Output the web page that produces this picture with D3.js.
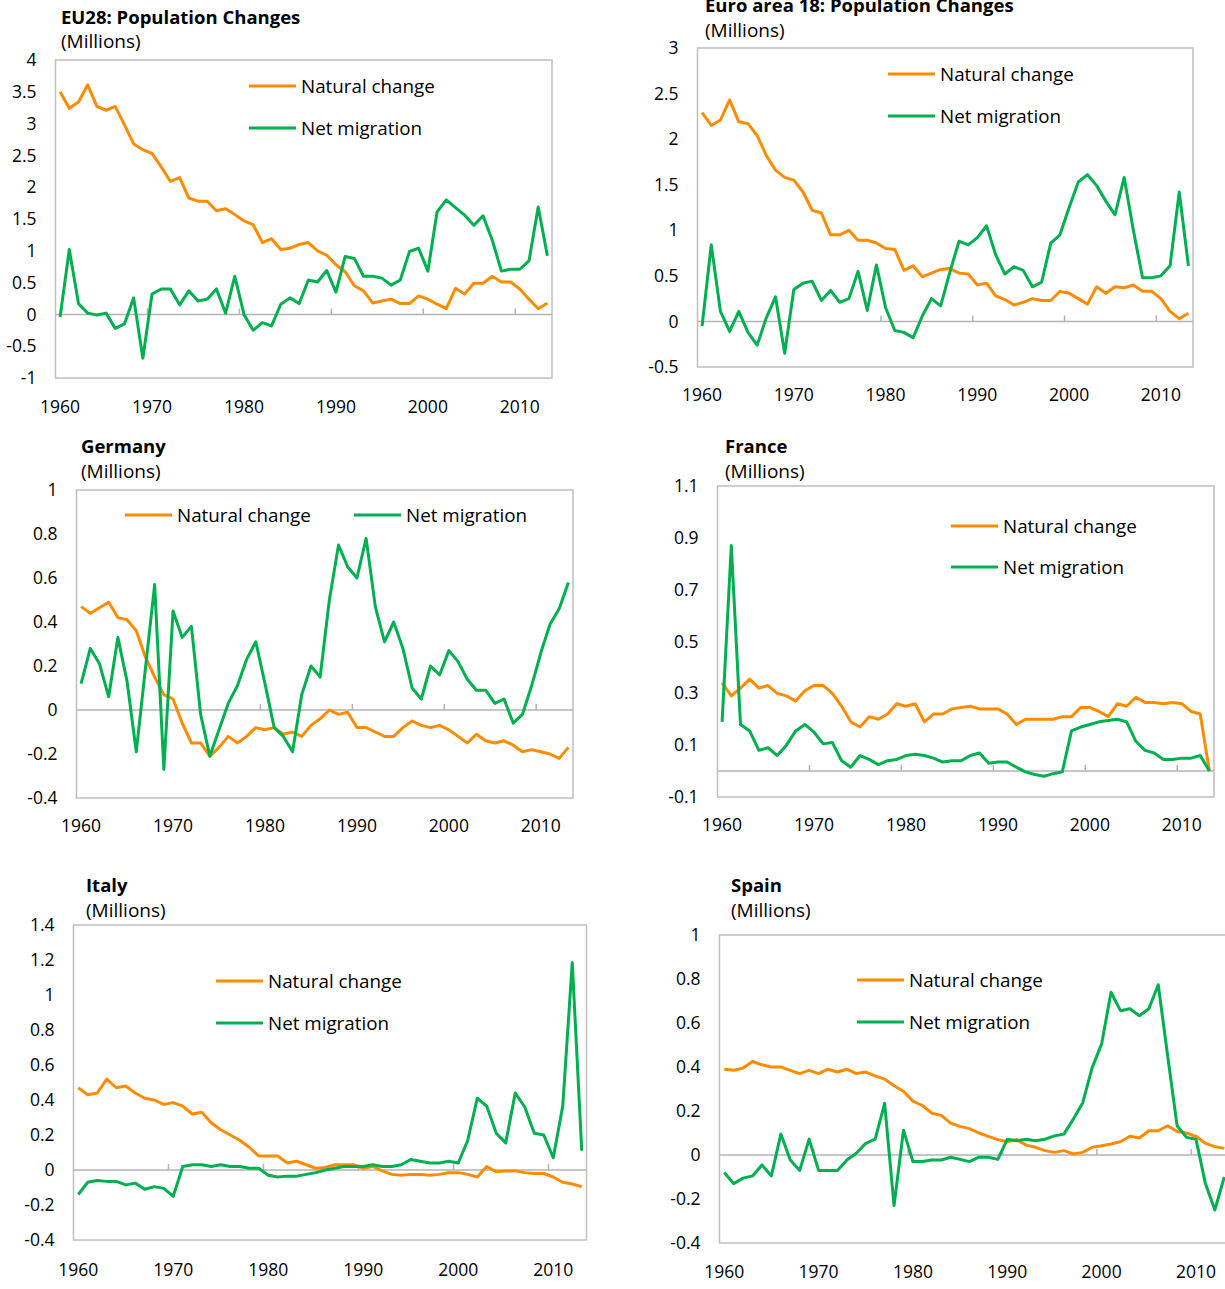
<!DOCTYPE html>
<html lang="en">
<head>
    <meta charset="UTF-8">
    <title>Population Changes</title>
    <script src="https://d3js.org/d3.v7.min.js"></script>
    <style>
        body { margin: 0; background: #fff; }
        svg { display: block; }
        text { font-family: "Open Sans", "Noto Sans", sans-serif; fill: #000; }
        .title { font-weight: bold; font-size: 18.5px; }
        .subtitle { font-size: 19px; }
        .tick text { font-size: 17.5px; font-family: "Open Sans", "Noto Sans", sans-serif; }
        .legend text { font-size: 18.8px; }
    </style>
</head>
<body>
    <script>
        // Years on the category axis
        const years = [1960, 1961, 1962, 1963, 1964, 1965, 1966, 1967, 1968, 1969,
                       1970, 1971, 1972, 1973, 1974, 1975, 1976, 1977, 1978, 1979,
                       1980, 1981, 1982, 1983, 1984, 1985, 1986, 1987, 1988, 1989,
                       1990, 1991, 1992, 1993, 1994, 1995, 1996, 1997, 1998, 1999,
                       2000, 2001, 2002, 2003, 2004, 2005, 2006, 2007, 2008, 2009,
                       2010, 2011, 2012, 2013];
        const yearLabels = [1960, 1970, 1980, 1990, 2000, 2010];

        // EU28 (millions)
        const eu28Natural = [3.50, 3.24, 3.34, 3.61, 3.27, 3.21, 3.27, 2.98, 2.68, 2.59,
                             2.53, 2.32, 2.09, 2.15, 1.83, 1.78, 1.78, 1.63, 1.66, 1.57,
                             1.47, 1.41, 1.13, 1.19, 1.02, 1.04, 1.10, 1.13, 1.00, 0.93,
                             0.78, 0.67, 0.45, 0.37, 0.18, 0.21, 0.24, 0.17, 0.17, 0.29,
                             0.24, 0.16, 0.09, 0.41, 0.32, 0.49, 0.49, 0.60, 0.51, 0.51,
                             0.40, 0.24, 0.09, 0.18];
        const eu28Migration = [-0.04, 1.02, 0.17, 0.02, -0.01, 0.02, -0.22, -0.15, 0.26, -0.69,
                               0.32, 0.40, 0.40, 0.15, 0.37, 0.21, 0.24, 0.40, 0.02, 0.60,
                               0.00, -0.25, -0.13, -0.18, 0.16, 0.26, 0.17, 0.54, 0.51, 0.69,
                               0.35, 0.91, 0.88, 0.60, 0.60, 0.57, 0.46, 0.54, 0.99, 1.04,
                               0.68, 1.61, 1.80, 1.68, 1.56, 1.40, 1.55, 1.17, 0.68, 0.71,
                               0.71, 0.84, 1.69, 0.92];
        const eu28Ticks = [-1, -0.5, 0, 0.5, 1, 1.5, 2, 2.5, 3, 3.5, 4];

        // Euro area 18
        const ea18Natural = [2.29, 2.15, 2.21, 2.43, 2.19, 2.17, 2.04, 1.82, 1.66, 1.58,
                             1.55, 1.42, 1.22, 1.19, 0.95, 0.95, 1.00, 0.89, 0.89, 0.86,
                             0.80, 0.79, 0.56, 0.61, 0.49, 0.53, 0.57, 0.58, 0.53, 0.52,
                             0.40, 0.42, 0.28, 0.24, 0.18, 0.21, 0.25, 0.23, 0.23, 0.33,
                             0.31, 0.25, 0.19, 0.38, 0.31, 0.38, 0.37, 0.40, 0.33, 0.33,
                             0.25, 0.11, 0.03, 0.09];
        const ea18Migration = [-0.05, 0.84, 0.11, -0.11, 0.11, -0.12, -0.26, 0.04, 0.27, -0.35,
                               0.35, 0.42, 0.44, 0.23, 0.34, 0.21, 0.25, 0.55, 0.12, 0.62,
                               0.15, -0.10, -0.12, -0.18, 0.06, 0.25, 0.17, 0.54, 0.88, 0.84,
                               0.92, 1.05, 0.73, 0.52, 0.60, 0.56, 0.38, 0.43, 0.86, 0.95,
                               1.25, 1.53, 1.61, 1.49, 1.32, 1.17, 1.58, 1.00, 0.48, 0.48,
                               0.50, 0.61, 1.42, 0.61];
        const ea18Ticks = [-0.5, 0, 0.5, 1, 1.5, 2, 2.5, 3];

        // Germany
        const deNatural = [0.47, 0.44, 0.465, 0.49, 0.42, 0.41, 0.36, 0.24, 0.15, 0.07,
                           0.05, -0.06, -0.15, -0.15, -0.21, -0.17, -0.12, -0.15, -0.12, -0.08,
                           -0.09, -0.08, -0.11, -0.10, -0.12, -0.07, -0.04, 0.00, -0.02, -0.01,
                           -0.08, -0.08, -0.10, -0.12, -0.12, -0.08, -0.05, -0.07, -0.08, -0.07,
                           -0.09, -0.12, -0.15, -0.11, -0.14, -0.15, -0.14, -0.16, -0.19, -0.18,
                           -0.19, -0.20, -0.22, -0.17];
        const deMigration = [0.12, 0.28, 0.21, 0.06, 0.33, 0.13, -0.19, 0.19, 0.57, -0.27,
                             0.45, 0.33, 0.38, -0.02, -0.21, -0.09, 0.03, 0.11, 0.23, 0.31,
                             0.12, -0.08, -0.12, -0.19, 0.07, 0.20, 0.15, 0.50, 0.75, 0.65,
                             0.60, 0.78, 0.47, 0.31, 0.40, 0.28, 0.10, 0.05, 0.20, 0.16,
                             0.27, 0.22, 0.14, 0.09, 0.09, 0.03, 0.05, -0.06, -0.02, 0.11,
                             0.26, 0.39, 0.46, 0.58];
        const deTicks = [-0.4, -0.2, 0, 0.2, 0.4, 0.6, 0.8, 1];

        // France
        const frNatural = [0.34, 0.29, 0.32, 0.355, 0.32, 0.33, 0.30, 0.29, 0.27, 0.31,
                           0.33, 0.33, 0.30, 0.25, 0.19, 0.17, 0.21, 0.20, 0.22, 0.26,
                           0.25, 0.26, 0.19, 0.22, 0.22, 0.24, 0.245, 0.25, 0.24, 0.24,
                           0.24, 0.22, 0.18, 0.20, 0.20, 0.20, 0.20, 0.21, 0.21, 0.245,
                           0.245, 0.23, 0.21, 0.26, 0.25, 0.285, 0.265, 0.265, 0.26, 0.265,
                           0.26, 0.23, 0.22, 0.00];
        const frMigration = [0.19, 0.87, 0.18, 0.155, 0.08, 0.09, 0.06, 0.10, 0.155, 0.18,
                             0.15, 0.105, 0.11, 0.04, 0.015, 0.06, 0.045, 0.025, 0.04, 0.045,
                             0.06, 0.065, 0.06, 0.05, 0.035, 0.04, 0.04, 0.06, 0.07, 0.03,
                             0.035, 0.035, 0.015, -0.003, -0.013, -0.02, -0.01, -0.003, 0.155, 0.17,
                             0.18, 0.19, 0.195, 0.20, 0.19, 0.115, 0.08, 0.07, 0.045, 0.045,
                             0.05, 0.05, 0.06, 0.00];
        const frTicks = [-0.1, 0.1, 0.3, 0.5, 0.7, 0.9, 1.1];

        // Italy
        const itNatural = [0.47, 0.43, 0.44, 0.52, 0.47, 0.48, 0.44, 0.41, 0.40, 0.375,
                           0.385, 0.365, 0.32, 0.33, 0.27, 0.23, 0.20, 0.17, 0.13, 0.08,
                           0.08, 0.08, 0.04, 0.05, 0.03, 0.01, 0.015, 0.03, 0.03, 0.03,
                           0.01, 0.02, -0.005, -0.025, -0.03, -0.025, -0.025, -0.03, -0.025, -0.015,
                           -0.015, -0.025, -0.04, 0.02, -0.01, -0.005, -0.005, -0.015, -0.02, -0.02,
                           -0.04, -0.07, -0.08, -0.095];
        const itMigration = [-0.14, -0.07, -0.06, -0.065, -0.065, -0.085, -0.075, -0.11, -0.095, -0.105,
                             -0.15, 0.02, 0.03, 0.03, 0.02, 0.03, 0.02, 0.02, 0.01, 0.01,
                             -0.03, -0.04, -0.035, -0.035, -0.025, -0.015, 0.00, 0.01, 0.02, 0.02,
                             0.02, 0.03, 0.02, 0.02, 0.03, 0.06, 0.05, 0.04, 0.04, 0.05,
                             0.04, 0.17, 0.41, 0.365, 0.21, 0.155, 0.44, 0.36, 0.21, 0.20,
                             0.07, 0.365, 1.185, 0.11];
        const itTicks = [-0.4, -0.2, 0, 0.2, 0.4, 0.6, 0.8, 1, 1.2, 1.4];

        // Spain
        const esNatural = [0.39, 0.385, 0.395, 0.425, 0.41, 0.40, 0.40, 0.385, 0.37, 0.385,
                           0.37, 0.39, 0.377, 0.39, 0.37, 0.377, 0.36, 0.345, 0.315, 0.29,
                           0.245, 0.225, 0.19, 0.18, 0.145, 0.13, 0.12, 0.10, 0.085, 0.07,
                           0.06, 0.07, 0.045, 0.035, 0.02, 0.012, 0.02, 0.005, 0.012, 0.035,
                           0.042, 0.05, 0.06, 0.085, 0.077, 0.11, 0.11, 0.133, 0.107, 0.10,
                           0.085, 0.053, 0.038, 0.03];
        const esMigration = [-0.08, -0.13, -0.105, -0.095, -0.045, -0.095, 0.095, -0.023, -0.07, 0.072,
                             -0.07, -0.07, -0.07, -0.023, 0.008, 0.053, 0.072, 0.235, -0.23, 0.113,
                             -0.03, -0.03, -0.023, -0.023, -0.01, -0.02, -0.03, -0.01, -0.01, -0.02,
                             0.072, 0.065, 0.072, 0.065, 0.072, 0.087, 0.095, 0.163, 0.238, 0.397,
                             0.505, 0.74, 0.656, 0.665, 0.633, 0.665, 0.774, 0.45, 0.133, 0.08,
                             0.072, -0.13, -0.25, -0.10];
        const esTicks = [-0.4, -0.2, 0, 0.2, 0.4, 0.6, 0.8, 1];

        const seriesNames = ["Natural change", "Net migration"];
        const seriesColors = ["#ff8c00", "#00b050"];

        // Panel layout (pixel positions of each plot frame and its legend)
        const panels = [
            { title: "EU28: Population Changes", natural: eu28Natural, migration: eu28Migration, ticks: eu28Ticks,
              left: 55.5, right: 552, top: 60, bottom: 378, titleX: 61, titleY: 17, subY: 41, labelY: 407,
              legend: [[249, 86], [249, 128]] },
            { title: "Euro area 18: Population Changes", natural: ea18Natural, migration: ea18Migration, ticks: ea18Ticks,
              left: 697.5, right: 1193, top: 48, bottom: 367, titleX: 705, titleY: 5, subY: 30, labelY: 395,
              legend: [[888, 74], [888, 116]] },
            { title: "Germany", natural: deNatural, migration: deMigration, ticks: deTicks,
              left: 76.5, right: 573, top: 490, bottom: 798, titleX: 81, titleY: 446, subY: 471, labelY: 826,
              legend: [[125, 515], [354, 515]] },
            { title: "France", natural: frNatural, migration: frMigration, ticks: frTicks,
              left: 717.5, right: 1214, top: 486, bottom: 797, titleX: 725, titleY: 446, subY: 471, labelY: 825,
              legend: [[951, 526], [951, 567]] },
            { title: "Italy", natural: itNatural, migration: itMigration, ticks: itTicks,
              left: 73.5, right: 586.5, top: 925, bottom: 1240, titleX: 86, titleY: 885, subY: 910, labelY: 1270,
              legend: [[216, 981], [216, 1023]] },
            { title: "Spain", natural: esNatural, migration: esMigration, ticks: esTicks,
              left: 719.5, right: 1229, top: 935, bottom: 1243, titleX: 731, titleY: 885, subY: 910, labelY: 1272,
              legend: [[857, 980], [857, 1022]] }
        ];

        const svg = d3.select("body").append("svg")
            .attr("width", 1225)
            .attr("height", 1289);

        panels.forEach(p => {
            const g = svg.append("g");

            const x = d3.scaleBand().domain(years).range([p.left, p.right]).padding(0);
            const y = d3.scaleLinear()
                .domain([d3.min(p.ticks), d3.max(p.ticks)])
                .range([p.bottom, p.top]);
            const cx = yr => x(yr) + x.bandwidth() / 2;

            // titles
            g.append("text").attr("class", "title")
                .attr("x", p.titleX).attr("y", p.titleY).attr("dy", "0.36em")
                .text(p.title);
            g.append("text").attr("class", "subtitle")
                .attr("x", p.titleX).attr("y", p.subY).attr("dy", "0.36em")
                .text("(Millions)");

            // plot frame
            g.append("rect")
                .attr("x", p.left).attr("y", p.top)
                .attr("width", p.right - p.left).attr("height", p.bottom - p.top)
                .attr("fill", "none")
                .attr("stroke", "#bfbfbf")
                .attr("stroke-width", 1.5);

            // zero line with decade tick marks
            g.append("line")
                .attr("x1", p.left).attr("x2", p.right)
                .attr("y1", y(0)).attr("y2", y(0))
                .attr("stroke", "#b3b3b3")
                .attr("stroke-width", 1.5);
            g.selectAll(".decade")
                .data(yearLabels.slice(1))
                .enter().append("line")
                .attr("x1", d => x(d)).attr("x2", d => x(d))
                .attr("y1", y(0)).attr("y2", y(0) - 6)
                .attr("stroke", "#b3b3b3")
                .attr("stroke-width", 1.5);

            // y axis labels
            const yAxis = g.append("g")
                .attr("transform", `translate(${p.left},0)`)
                .call(d3.axisLeft(y).tickValues(p.ticks).tickSize(0).tickPadding(19)
                    .tickFormat(d => String(d)));
            yAxis.select(".domain").remove();

            // x axis labels
            const xAxis = g.append("g")
                .attr("transform", `translate(0,${p.labelY})`)
                .call(d3.axisBottom(x).tickValues(yearLabels).tickSize(0).tickPadding(0));
            xAxis.select(".domain").remove();
            xAxis.selectAll("text").attr("dy", "0.36em").attr("y", 0);

            // lines
            const line = d3.line()
                .x((d, i) => cx(years[i]))
                .y(d => y(d));
            [p.natural, p.migration].forEach((s, k) => {
                g.append("path")
                    .datum(s)
                    .attr("fill", "none")
                    .attr("stroke", seriesColors[k])
                    .attr("stroke-width", 3)
                    .attr("stroke-linejoin", "round")
                    .attr("d", line);
            });

            // legend
            const legend = g.append("g").attr("class", "legend");
            p.legend.forEach((pos, k) => {
                legend.append("line")
                    .attr("x1", pos[0]).attr("x2", pos[0] + 47)
                    .attr("y1", pos[1]).attr("y2", pos[1])
                    .attr("stroke", seriesColors[k])
                    .attr("stroke-width", 3);
                legend.append("text")
                    .attr("x", pos[0] + 52).attr("y", pos[1]).attr("dy", "0.36em")
                    .text(seriesNames[k]);
            });
        });
    </script>
</body>
</html>
